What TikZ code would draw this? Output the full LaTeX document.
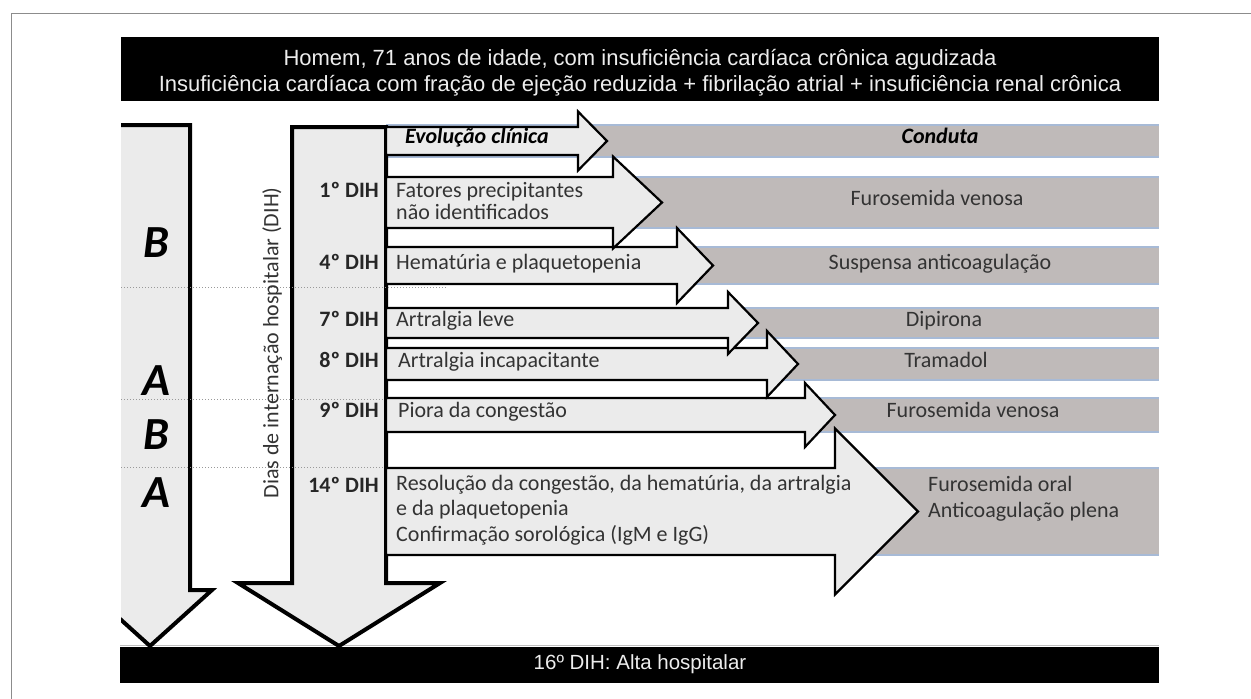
\documentclass[tikz,border=0pt]{standalone}
\usepackage{fontspec}
\setmainfont{Carlito}
\newfontfamily\arialfont{Liberation Sans}
\usetikzlibrary{positioning}
\definecolor{arrowfill}{HTML}{EBEBEB}
\definecolor{bandgray}{HTML}{BFBAB9}
\definecolor{bandline}{HTML}{A7BAD6}
\definecolor{txtgray}{HTML}{333333}

\begin{document}
\begin{tikzpicture}[x=1pt,y=-1pt]
        \tikzset{harrow/.style = {draw=black, line width=2.2pt, fill=arrowfill}}
        \tikzset{varrow/.style = {draw=black, line width=4pt, fill=arrowfill}}
        \tikzset{hdr/.style = {inner sep=0pt, text=white!93!black, font=\arialfont\fontsize{22}{26}\selectfont}}
        \tikzset{rowtext/.style = {anchor=mid west, inner sep=0pt, text=txtgray, font=\fontsize{22}{26}\selectfont}}
        \tikzset{conduta/.style = {anchor=mid, inner sep=0pt, text=txtgray, font=\fontsize{22}{26}\selectfont}}
        \tikzset{dih/.style = {anchor=mid east, inner sep=0pt, text=black!85, font=\fontsize{22}{26}\selectfont\bfseries}}
        \tikzset{phase/.style = {inner sep=0pt, font=\fontsize{46}{46}\selectfont\bfseries\itshape}}
        \useasboundingbox (0,0) rectangle (1251,699);
        % frame and bars
        \draw[black!45, line width=1pt] (11.5,699) |- (1251,13);
        \fill[black] (121,37) rectangle (1159,101);
        \fill[black] (120,647) rectangle (1159,683);
        \draw[black!25, line width=1.5pt] (120,645.5) -- (1159,645.5);
        % bands
        \foreach \yt/\yb in {125/157, 177/228, 247/284, 308/338, 348/380, 398/432, 468/555} {
            \fill[bandgray] (386,\yt) rectangle (1159,\yb);
            \draw[bandline, line width=1.2pt] (386,\yt) -- (1159,\yt) (386,\yb) -- (1159,\yb);
        }
        % vertical arrows
        \begin{scope}
            \clip (121,0) rectangle (1251,699);
            \draw[varrow] (110,125) -- (190,125) -- (190,590) -- (212,590) -- (150,646) -- (88,590) -- (110,590) -- cycle;
        \end{scope}
        \draw[varrow] (292,127) -- (386,127) -- (386,583) -- (440,583) -- (339,646) -- (238,583) -- (292,583) -- cycle;
        \foreach \y in {287,399,467}
            \draw[black!40, dotted, line width=1pt] (121,\y) -- (446,\y);
        % row arrows
        \foreach \yt/\yb/\xb/\hh/\xt in {468/555/835/83/918, 398/432/805/32/835, 348/380/767/33/798, 308/338/728/31/758, 247/284/677/37.5/713, 177/228/613/46/662, 127/155/578/29.5/607} {
            \pgfmathsetmacro\yc{(\yt+\yb)/2}
            \draw[harrow] (386,\yt) -- (\xb,\yt) -- (\xb,{\yc-\hh}) -- (\xt,\yc) -- (\xb,{\yc+\hh}) -- (\xb,\yb) -- (386,\yb) -- cycle;
        }
        % titles
        \node[hdr, anchor=base] (title1) at (640,65) {Homem, 71 anos de idade, com insuficiência cardíaca crônica agudizada};
        \node[hdr, anchor=base] (title2) at (640,91) {Insuficiência cardíaca com fração de ejeção reduzida + fibrilação atrial + insuficiência renal crônica};
        \node[hdr, anchor=mid, font=\arialfont\fontsize{20.5}{24}\selectfont] (alta) at (640,667) {16º DIH: Alta hospitalar};
        % phases
        \node[phase] (b1) at (156,243) {B};
        \node[phase] (a1) at (156,381) {A};
        \node[phase] (b2) at (156,435) {B};
        \node[phase] (a2) at (156,493) {A};
        \node[rotate=90, anchor=mid, inner sep=0pt, text=txtgray, font=\fontsize{22}{26}\selectfont] (dias) at (276,343) {Dias de internação hospitalar (DIH)};
        % days
        \node[dih] (d1) at (379,195) {1º DIH};
        \node[dih] (d4) at (379,267) {4º DIH};
        \node[dih] (d7) at (379,324) {7º DIH};
        \node[dih] (d8) at (379,365) {8º DIH};
        \node[dih] (d9) at (379,415) {9º DIH};
        \node[dih] (d14) at (379,490) {14º DIH};
        % evolution
        \node[rowtext, font=\fontsize{22}{26}\selectfont\bfseries\itshape, text=black] (evol) at (405,141) {Evolução clínica};
        \node[rowtext] (e1a) at (396,195) {Fatores precipitantes};
        \node[rowtext] (e1b) at (396,217) {não identificados};
        \node[rowtext] (e2) at (396,267) {Hematúria e plaquetopenia};
        \node[rowtext] (e3) at (396,324) {Artralgia leve};
        \node[rowtext] (e4) at (398,365) {Artralgia incapacitante};
        \node[rowtext] (e5) at (398,415) {Piora da congestão};
        \node[rowtext] (e6a) at (396,488) {Resolução da congestão, da hematúria, da artralgia};
        \node[rowtext] (e6b) at (396,513) {e da plaquetopenia};
        \node[rowtext] (e6c) at (396,539) {Confirmação sorológica (IgM e IgG)};
        % conduct
        \node[conduta, font=\fontsize{22}{26}\selectfont\bfseries\itshape, text=black] (cond) at (940,141) {Conduta};
        \node[conduta] (c1) at (937,203) {Furosemida venosa};
        \node[conduta] (c2) at (940,267) {Suspensa anticoagulação};
        \node[conduta] (c3) at (944,324) {Dipirona};
        \node[conduta] (c4) at (946,365) {Tramadol};
        \node[conduta] (c5) at (973,415) {Furosemida venosa};
        \node[rowtext] (c6a) at (928,489) {Furosemida oral};
        \node[rowtext] (c6b) at (928,515) {Anticoagulação plena};
\end{tikzpicture}
\end{document}
